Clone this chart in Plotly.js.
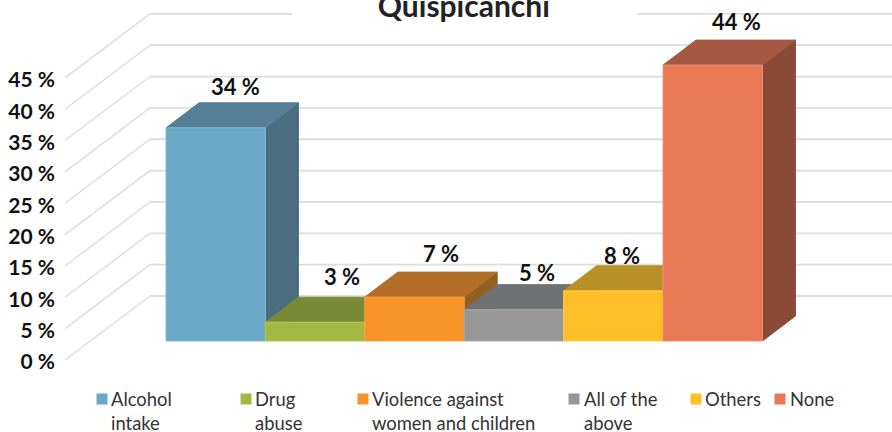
<!DOCTYPE html>
<html>
<head>
<meta charset="utf-8">
<script src="https://cdn.plot.ly/plotly-3.0.1.min.js"></script>
<style>html,body{margin:0;padding:0;background:#fff}#chart{width:892px;height:432px}</style>
</head>
<body>
<div id="chart"></div>
<script>
// Survey answers, percent of respondents
const categories = ["Alcohol intake", "Drug abuse", "Violence against women and children", "All of the above", "Others", "None"];
const values = [34, 3, 7, 5, 8, 44];
const valueLabels = ["34 %", "3 %", "7 %", "5 %", "8 %", "44 %"];
const legendLines = ["Alcohol<br>intake", "Drug<br>abuse", "Violence against<br>women and children", "All of the<br>above", "Others", "None"];
const yLevels = [0, 5, 10, 15, 20, 25, 30, 35, 40, 45];
const yLevelLabels = ["0 %", "5 %", "10 %", "15 %", "20 %", "25 %", "30 %", "35 %", "40 %", "45 %"];

// Bar faces: front, top, side
const frontColors = ["#69A8C7", "#A2B840", "#F79226", "#979797", "#FFC027", "#E97855"];
const topColors = ["#557F97", "#788A36", "#B36F27", "#6F7273", "#B99025", "#A65840"];
const sideColors = ["#4A6D7F", "#667530", "#94601F", "#5F6162", "#94741F", "#8A4A37"];
const edgeColors = ["#82B8D2", "#B2C75A", "#F9A347", "#A8A8A8", "#FFCC50", "#EE9377"];

// Page scale: one category is 99.4 px wide, one percent is 6.27 px tall
const W = 892, H = 432, LEFT = 56;
const pxPerCat = 99.4, pxPerPct = 6.27, originX = 166, originY = 341;
const X = px => (px - originX) / pxPerCat;
const Y = px => (originY - px) / pxPerPct;

// Oblique depth of the bars and of the wall
const depthX = 33 / pxPerCat, depthY = 25 / pxPerPct;
const wallFrontX = X(65), wallFrontY = Y(360), wallBackX = X(150), wallBackY = Y(296);

const traces = [];
const gridStyle = {type: "scatter", mode: "lines", hoverinfo: "skip", showlegend: false};

// Wall lines running back from each tick, then across the rear plane
yLevels.forEach(v => {
  traces.push({...gridStyle, x: [wallFrontX, wallBackX], y: [wallFrontY + v, wallBackY + v],
    line: {color: "#DEDEDE", width: 1.4}});
  const across = v === 45
    ? {x: [wallBackX, X(292), null, X(637), X(W)], y: [wallBackY + v, wallBackY + v, null, wallBackY + v, wallBackY + v]}
    : {x: [wallBackX, X(W)], y: [wallBackY + v, wallBackY + v]};
  traces.push({...gridStyle, ...across, line: {color: "#DEDEDE", width: 1.8}});
});

// Bars go left to right so each one overlaps the side of its neighbour
const face = (xs, ys, fill, edge) => ({
  type: "scatter", mode: "lines", x: xs, y: ys, fill: "toself", fillcolor: fill,
  line: {color: edge, width: 1}, hoverinfo: "skip", showlegend: false
});
values.forEach((v, i) => {
  const l = i, r = i + 1, dx = depthX, dy = depthY;
  traces.push(face([r, r + dx, r + dx, r, r], [0, dy, v + dy, v, 0], sideColors[i], sideColors[i]));
  traces.push(face([l, l + dx, r + dx, r, l], [v, v + dy, v + dy, v, v], topColors[i], topColors[i]));
  traces.push(face([l, r, r, l, l], [0, 0, v, v, 0], frontColors[i], edgeColors[i]));
});

// Legend swatches
const swatchPx = [102, 246, 363, 574, 696, 780];
traces.push({
  type: "scatter", mode: "markers", x: swatchPx.map(X), y: swatchPx.map(() => Y(399)),
  marker: {symbol: "square", size: 11, color: frontColors, line: {width: 0}},
  text: categories, hoverinfo: "skip", showlegend: false
});

// Value labels sit over the bar tops, nudged individually around their neighbours
const labelShiftX = [3, 10, 10, 7, -8, 7];
const labelShiftY = [16, 20.5, 19, 12.5, 10, 19];
const annotations = values.map((v, i) => ({
  x: i + 0.5 + depthX / 2, y: v + depthY, xref: "x", yref: "y", text: valueLabels[i], showarrow: false,
  xanchor: "center", yanchor: "middle", xshift: labelShiftX[i], yshift: labelShiftY[i],
  font: {family: "Lato, sans-serif", size: 22, color: "#111111", weight: 700}
}));

const legendTextPx = [109, 253, 370, 582, 703, 788];
legendLines.forEach((t, i) => annotations.push({
  x: X(legendTextPx[i]), y: Y(385.5), xref: "x", yref: "y", text: t, showarrow: false,
  xanchor: "left", yanchor: "top", align: "left",
  font: {family: "Lato, sans-serif", size: 18.4, color: "#333333"}
}));

const layout = {
  width: W, height: H,
  margin: {l: LEFT, r: 0, t: 0, b: 0, pad: 0},
  paper_bgcolor: "#ffffff", plot_bgcolor: "#ffffff",
  showlegend: false, hovermode: false,
  title: {text: "<b>Quispicanchi</b>", x: 0.52, xanchor: "center", y: 0.984, yanchor: "middle",
    font: {family: "Lato, sans-serif", size: 30, color: "#222222"}},
  xaxis: {range: [X(LEFT), X(W)], visible: false, fixedrange: true},
  yaxis: {
    range: [Y(H), Y(0)], fixedrange: true, showgrid: false, zeroline: false, showline: false,
    tickmode: "array", tickvals: yLevels.map(v => v + wallFrontY - 2 / pxPerPct), ticktext: yLevelLabels,
    ticks: "", tickfont: {family: "Lato, sans-serif", size: 21, color: "#111111", weight: 700}
  },
  annotations
};

Plotly.newPlot("chart", traces, layout, {displayModeBar: false, staticPlot: true});
</script>
</body>
</html>
